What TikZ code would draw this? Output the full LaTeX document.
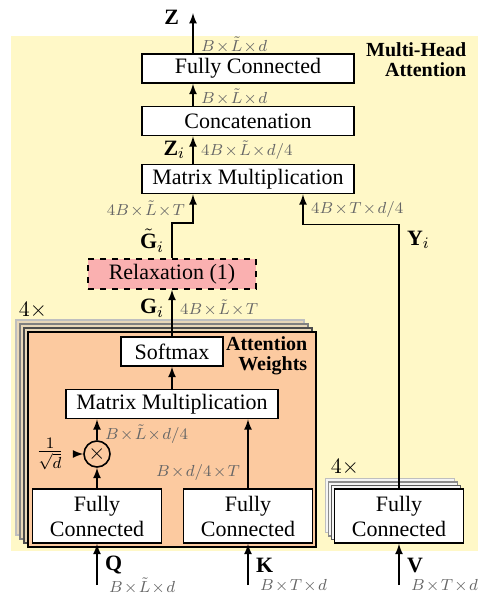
\documentclass[tikz,border=0pt,11pt]{standalone}
\usepackage{fontspec}
\setmainfont{Liberation Serif}
\usetikzlibrary{positioning}

\definecolor{mhyellow}{RGB}{255,248,199}
\definecolor{attpeach}{RGB}{252,202,160}
\definecolor{attshade}{RGB}{232,215,185}
\definecolor{relaxpink}{RGB}{250,176,176}

\newcommand{\dimsize}{\fontsize{7.6}{9}\selectfont\medmuskip=1.5mu\relax}

\begin{document}
\begin{tikzpicture}[x=0.5pt,y=-0.5pt,>=latex,thick,on grid,
    block/.style={draw,fill=white,minimum width=106pt,minimum height=14.5pt,inner sep=0pt,font=\fontsize{11}{12.5}\selectfont},
    fcblock/.style={block,minimum width=64.5pt,minimum height=27pt,align=center},
    attbox/.style={draw,minimum width=144pt,minimum height=107.5pt,inner sep=0pt},
    dims/.style={font=\dimsize,text=black!60},
    headtitle/.style={font=\fontsize{10}{10}\selectfont\bfseries,align=right,inner sep=0pt,anchor=east}]
    \useasboundingbox (0,0) rectangle (487,596);
    \fill[mhyellow] (11,36) rectangle (478,551);

    % top column
    \node[block]           (mmout)                      at (248,179) {Matrix Multiplication};
    \node[block]           (concat) [above=29pt of mmout]            {Concatenation};
    \node[block]           (fcout)  [above=26.25pt of concat]        {Fully Connected};
    \node[block,dashed,fill=relaxpink,minimum width=84pt,minimum height=15pt] (relax) at (172,274) {Relaxation (1)};
    \node[headtitle]       (mhtitle)                    at (467,60)  {Multi-Head\\Attention};

    % attention weights, 4 heads
    \foreach \k/\c in {3/25,2/50,1/70}
        \node[attbox,draw=black!\c,fill=attshade] (attback\k) at (172-4*\k,439.5-4*\k) {};
    \node[attbox,fill=attpeach] (att)                   at (172,439.5) {};
    \node[anchor=west,inner sep=0pt] (attcount)         at (18,310)  {$4\times$};
    \node[headtitle]       (awtitle)                    at (308,356) {Attention\\Weights};
    \node[block,minimum width=51pt] (soft)              at (172,351.5) {Softmax};
    \node[block]           (mmin)   [below=26.25pt of soft]          {Matrix Multiplication};
    \node[fcblock]         (fcq)                        at (97,516)  {Fully\\Connected};
    \node[fcblock]         (fck)    [right=75.5pt of fcq]            {Fully\\Connected};
    \node[draw,circle,minimum size=13pt,inner sep=0pt] (mul) at (97,454) {$\times$};
    \node[inner sep=1pt]   (scal)   [left=23.5pt of mul]             {$\frac{1}{\sqrt{d}}$};

    % value heads
    \foreach \k/\c in {3/25,2/45,1/65}
        \node[fcblock,draw=black!\c,fill=black!4] (fcvback\k) at (399-3*\k,516-3.5*\k) {};
    \node[fcblock]         (fcv)    [right=75.5pt of fck]            {Fully\\Connected};
    \node[anchor=west,inner sep=0pt] (vcount)           at (330,467) {$4\times$};

    \coordinate (zout) at (193,13);
    \coordinate (qin)  at (97,585);
    \coordinate (kin)  at (248,585);
    \coordinate (vin)  at (399,585);

    \draw[->] ([xshift=-27.5pt]fcout.north) -- node[pos=0.88,left,xshift=-3pt] {$\mathbf{Z}$}
              node[pos=0.2,right,dims] {$B\times\tilde{L}\times d$} (zout);
    \draw[->] ([xshift=-27.5pt]concat.north) -- node[pos=0.4,right,dims] {$B\times\tilde{L}\times d$}
              ([xshift=-27.5pt]fcout.south);
    \draw[->] ([xshift=-27.5pt]mmout.north) -- node[left] {$\mathbf{Z}_i$}
              node[right,dims] {$4B\times\tilde{L}\times d/4$} ([xshift=-27.5pt]concat.south);
    \draw[->] (relax.north) -- node[left] {$\tilde{\mathbf{G}}_i$} ++(0,-35)
              -| node[pos=0.75,left,dims] {$4B\times\tilde{L}\times T$} ([xshift=-27.5pt]mmout.south);
    \draw[->] (fcv.north) |- node[pos=0.47,right] {$\mathbf{Y}_i$} ([xshift=27.5pt,yshift=-15pt]mmout.south)
              -- node[right,dims] {$4B\times T\times d/4$} ([xshift=27.5pt]mmout.south);
    \draw[->] (soft.north) -- node[pos=0.6,left] {$\mathbf{G}_i$}
              node[pos=0.6,right,dims] {$4B\times\tilde{L}\times T$} (relax.south);

    \draw[->] (mmin) -- (soft);
    \draw[->] (mul.north) -- node[pos=0.3,right,dims] {$B\times\tilde{L}\times d/4$} (mul.north |- mmin.south);
    \draw[->] (fcq) -- (mul);
    \draw[->,shorten <=3pt] (scal) -- (mul);
    \draw[->] (fck.north) -- node[pos=0.23,left,dims] {$B\times d/4\times T$} (fck.north |- mmin.south);

    \draw[->] (qin) -- node[pos=0.48,right] {$\mathbf{Q}$}
              node[pos=0,anchor=west,dims,xshift=2pt,yshift=-0.5pt] {$B\times\tilde{L}\times d$} (fcq);
    \draw[->] (kin) -- node[pos=0.48,right] {$\mathbf{K}$}
              node[pos=0,anchor=west,dims,xshift=2pt,yshift=-0.5pt] {$B\times T\times d$} (fck);
    \draw[->] (vin) -- node[pos=0.48,right] {$\mathbf{V}$}
              node[pos=0,anchor=west,dims,xshift=2pt,yshift=-0.5pt] {$B\times T\times d$} (fcv);
\end{tikzpicture}
\end{document}
